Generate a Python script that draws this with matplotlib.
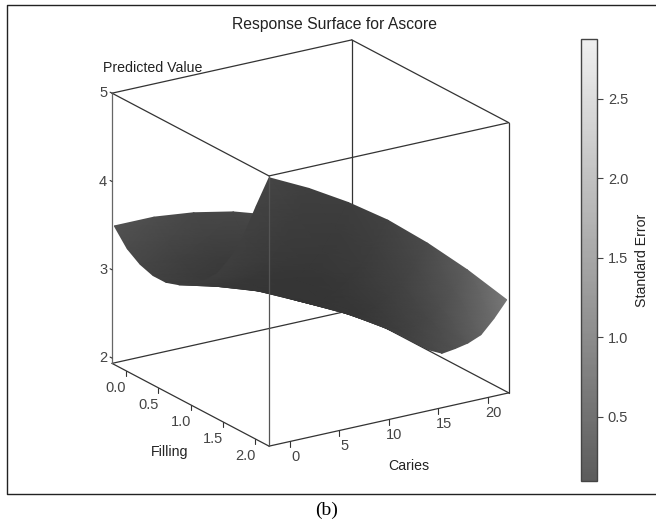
import numpy as np
import matplotlib
matplotlib.use("Agg")
import matplotlib.pyplot as plt
from matplotlib.colors import LinearSegmentedColormap, Normalize
from matplotlib.cm import ScalarMappable

caries = [-2, 2, 6, 10, 14, 18, 22]
filling = [-0.2, 0.0, 0.2, 0.4, 0.6, 0.8, 1.0, 1.2, 1.4, 1.6, 1.8, 2.0, 2.2]

# predicted value, one row per filling value
predicted = [
    [3.50, 3.50, 3.45, 3.36, 3.22, 3.04, 2.82],
    [3.32, 3.30, 3.24, 3.13, 2.97, 2.77, 2.53],
    [3.22, 3.18, 3.10, 2.98, 2.80, 2.58, 2.32],
    [3.17, 3.09, 2.99, 2.83, 2.65, 2.42, 2.15],
    [3.17, 3.07, 2.93, 2.74, 2.56, 2.32, 2.03],
    [3.22, 3.10, 2.95, 2.74, 2.53, 2.28, 1.97],
    [3.32, 3.18, 3.01, 2.78, 2.56, 2.29, 1.96],
    [3.42, 3.31, 3.13, 2.90, 2.65, 2.35, 2.00],
    [3.58, 3.47, 3.31, 3.07, 2.80, 2.48, 2.13],
    [3.83, 3.71, 3.53, 3.29, 3.00, 2.65, 2.27],
    [4.15, 3.99, 3.79, 3.53, 3.20, 2.84, 2.44],
    [4.57, 4.37, 4.13, 3.84, 3.50, 3.12, 2.70],
    [4.97, 4.75, 4.49, 4.19, 3.83, 3.43, 2.99],
]
std_error = [
    [0.56, 0.48, 0.42, 0.40, 0.44, 0.60, 0.85],
    [0.46, 0.38, 0.32, 0.30, 0.34, 0.48, 0.70],
    [0.38, 0.30, 0.24, 0.22, 0.26, 0.38, 0.58],
    [0.32, 0.24, 0.18, 0.16, 0.20, 0.30, 0.48],
    [0.28, 0.20, 0.14, 0.13, 0.17, 0.26, 0.42],
    [0.26, 0.18, 0.13, 0.12, 0.15, 0.24, 0.40],
    [0.25, 0.17, 0.13, 0.12, 0.15, 0.25, 0.42],
    [0.25, 0.17, 0.13, 0.13, 0.17, 0.28, 0.47],
    [0.26, 0.18, 0.14, 0.15, 0.21, 0.34, 0.55],
    [0.28, 0.20, 0.16, 0.18, 0.26, 0.41, 0.66],
    [0.30, 0.22, 0.19, 0.22, 0.32, 0.50, 0.80],
    [0.33, 0.25, 0.22, 0.27, 0.39, 0.60, 0.95],
    [0.37, 0.28, 0.26, 0.32, 0.46, 0.72, 1.12],
]

caries_ticks = [0, 5, 10, 15, 20]
filling_ticks = [0.0, 0.5, 1.0, 1.5, 2.0]
z_ticks = [2, 3, 4, 5]
bar_ticks = [0.5, 1.0, 1.5, 2.0, 2.5]

cmin, cmax = -2.12, 22.1
fmin, fmax = -0.217, 2.217
zmin, zmax = 1.94, 5.0

W, H = 656, 524
plt.rcParams['font.family'] = ['Liberation Sans', 'DejaVu Sans']


def proj(c, f, z):
    # proiezione ortogonale del cubo, risultato in pixel
    c, f, z = np.asarray(c, float), np.asarray(f, float), np.asarray(z, float)
    return 147 + 9.9 * c + 64.5 * f, 537.4 - 2.2 * c + 34 * f - 88.3 * z


def seg(ax, p, q, color='#333333', lw=0.9, zorder=3):
    x, y = proj(*zip(p, q))
    ax.plot(x, y, color=color, lw=lw, zorder=zorder, solid_capstyle='round')


fig = plt.figure(figsize=(W / 100, H / 100), dpi=100, facecolor='white')
ax = fig.add_axes([0, 0, 1, 1])

cmap = LinearSegmentedColormap.from_list('se', [(0.2, 0.2, 0.2), (0.93, 0.93, 0.93)])
norm = Normalize(0.097, 2.877)

C, F = np.meshgrid(caries, filling)
px, py = proj(C, F, np.array(predicted))
# righe da dietro in avanti, cosi' la parte davanti copre quella dietro
ax.pcolormesh(px, py, np.array(std_error), shading='gouraud', cmap=cmap, norm=norm, zorder=2)

# spigoli dietro la superficie
seg(ax, (cmax, fmin, zmin), (cmax, fmin, zmax), zorder=1)
seg(ax, (cmin, fmin, zmin), (cmax, fmin, zmin), zorder=1)
seg(ax, (cmax, fmin, zmin), (cmax, fmax, zmin), zorder=1)
# spigoli davanti
seg(ax, (cmin, fmin, zmax), (cmax, fmin, zmax))
seg(ax, (cmax, fmin, zmax), (cmax, fmax, zmax))
seg(ax, (cmin, fmin, zmax), (cmin, fmax, zmax))
seg(ax, (cmin, fmax, zmax), (cmax, fmax, zmax))
seg(ax, (cmin, fmin, zmin), (cmin, fmax, zmin))
seg(ax, (cmin, fmax, zmin), (cmax, fmax, zmin))
seg(ax, (cmax, fmax, zmin), (cmax, fmax, zmax))
seg(ax, (cmin, fmin, zmin), (cmin, fmin, zmax), color='#666666')
seg(ax, (cmin, fmax, zmin), (cmin, fmax, zmax), color='#555555')

tick_col = '#444444'
for v in filling_ticks:
    seg(ax, (cmin, v, zmin), (cmin, v, zmin - 0.06), lw=0.8)
    x, y = proj(cmin - 1.0, v, zmin - 0.17)
    ax.text(x, y, f'{v:.1f}', color=tick_col, fontsize=10.5, ha='center', va='center')
for v in caries_ticks:
    seg(ax, (v, fmax, zmin), (v, fmax, zmin - 0.06), lw=0.8)
    x, y = proj(v, fmax + 0.08, zmin - 0.15)
    ax.text(x, y, str(v), color=tick_col, fontsize=10.5, ha='center', va='center')
for v in z_ticks:
    seg(ax, (cmin, fmin, v), (cmin, fmin - 0.03, v), lw=0.8)
    x, y = proj(cmin - 0.9, fmin, v + 0.02)
    ax.text(x, y, str(v), color=tick_col, fontsize=10.5, ha='center', va='center')

ax.text(170, 452, 'Filling', color='#222222', fontsize=10.2, ha='center', va='center')
ax.text(409, 466, 'Caries', color='#222222', fontsize=10.2, ha='center', va='center')
ax.text(153, 68, 'Predicted Value', color='#222222', fontsize=10.2, ha='center', va='center')
ax.text(335, 25, 'Response Surface for Ascore', fontsize=11.3, color='#222222', ha='center', va='center')

# cornice del riquadro
ax.plot([W, 6.5, 6.5, W], [5, 5, 494, 494], color='#222222', lw=1, zorder=1)
ax.text(327, 510, '(b)', family=['Liberation Serif'], fontsize=14, color='black', ha='center', va='center')

ax.set_xlim(0, W)
ax.set_ylim(H, 0)
ax.set_axis_off()

# barra dei colori
cax = fig.add_axes([581 / W, 1 - 481 / H, 16 / W, 442 / H])
cb = fig.colorbar(ScalarMappable(norm=norm, cmap=cmap), cax=cax, alpha=0.8)
cb.set_ticks(bar_ticks)
cb.ax.tick_params(length=4.3, width=0.8, color='#444444', labelcolor=tick_col, labelsize=10.5, pad=3.5)
cb.outline.set_edgecolor('#444444')
cb.outline.set_linewidth(1)
cb.set_label('Standard Error', fontsize=10.2, color='#222222', labelpad=5)

fig.savefig('out.png', dpi=100)
